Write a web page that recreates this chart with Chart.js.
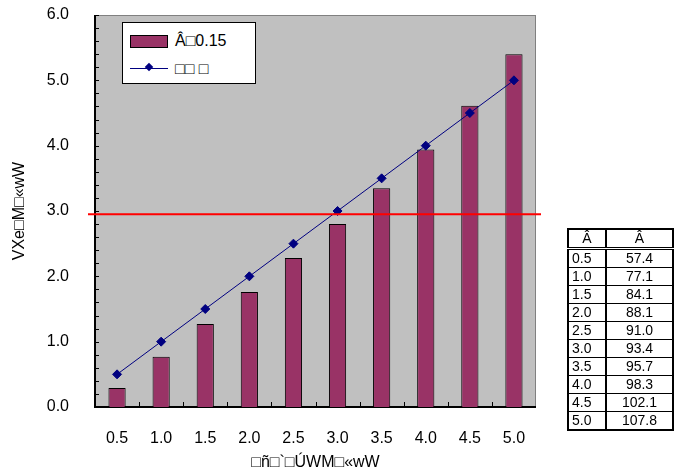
<!DOCTYPE html>
<html>
<head>
<meta charset="utf-8">
<script src="https://cdn.jsdelivr.net/npm/chart.js@4.4.1/dist/chart.umd.min.js"></script>
<style>
  body { margin: 0; background: #fff; font-family: "Liberation Sans", "Noto Sans CJK JP", sans-serif; }
  #wrap { position: relative; width: 682px; height: 472px; }
  #chart-box { position: absolute; left: 0; top: 0; width: 682px; height: 472px; }
  #legend { position: absolute; left: 122px; top: 22px; width: 132px; height: 60px; background: #fff; border: 1px solid #000; font-size: 16px; }
  #legend .row { position: absolute; left: 0; height: 20px; line-height: 20px; }
  #legend .sw { position: absolute; left: 7px; top: 4px; width: 36px; height: 11px; background: #993366; border: 1px solid #000; }
  #legend .ln { position: absolute; left: 7px; top: 9px; width: 38px; height: 1px; background: #000080; }
  #legend .dm { position: absolute; left: 23px; top: 5px; width: 6px; height: 6px; background: #000080; transform: rotate(45deg); }
  #legend .tx { position: absolute; left: 52px; top: 0; white-space: nowrap; }
  #tbl { position: absolute; left: 567px; top: 228px; border-collapse: collapse; border: 2px solid #000; font-size: 14px; }
  #tbl td, #tbl th { border: 1px solid #000; padding: 0 3px; height: 17px; line-height: 17px; font-weight: normal; }
  #tbl th { border-bottom: 3px double #000; text-align: center; }
  #tbl td:first-child { width: 30px; text-align: left; border-right: 2px solid #000; }
  #tbl th:first-child { border-right: 2px solid #000; }
  #tbl td:last-child { width: 59px; text-align: center; }
</style>
</head>
<body>
<div id="wrap">
  <div id="chart-box"><canvas id="bar-chart"></canvas></div>
  <div id="legend">
    <div class="row" style="top:8px;width:130px"><div class="sw"></div><span class="tx">Â□0.15</span></div>
    <div class="row" style="top:36px;width:130px"><div class="ln"></div><div class="dm"></div><span class="tx">□□ □</span></div>
  </div>
  <table id="tbl"></table>
</div>
<script>
// data
const categories = ['0.5', '1.0', '1.5', '2.0', '2.5', '3.0', '3.5', '4.0', '4.5', '5.0'];
const barValues = [0.29, 0.77, 1.27, 1.76, 2.28, 2.80, 3.35, 3.94, 4.61, 5.40];
const lineValues = [0.5, 1.0, 1.5, 2.0, 2.5, 3.0, 3.5, 4.0, 4.5, 5.0];
const redLineValue = 2.95;
const yTicks = [0, 1, 2, 3, 4, 5, 6];
const tableX = ['0.5', '1.0', '1.5', '2.0', '2.5', '3.0', '3.5', '4.0', '4.5', '5.0'];
const tableY = ['57.4', '77.1', '84.1', '88.1', '91.0', '93.4', '95.7', '98.3', '102.1', '107.8'];
const tableHead = ['Â', 'Â'];

// side table
const tbl = document.getElementById('tbl');
let html = '<tr><th>' + tableHead[0] + '</th><th>' + tableHead[1] + '</th></tr>';
tableX.forEach((x, i) => {
  html += '<tr><td>' + x + '</td><td>' + tableY[i] + '</td></tr>';
});
tbl.innerHTML = html;

// gray plot area, frame, inward ticks, red reference line
const plotDeco = {
  id: 'plotDeco',
  beforeDatasetsDraw(chart) {
    const { ctx, chartArea: a, scales } = chart;
    ctx.save();
    ctx.fillStyle = '#c0c0c0';
    ctx.fillRect(a.left, a.top, a.right - a.left, a.bottom - a.top);
    ctx.strokeStyle = '#808080';
    ctx.lineWidth = 1;
    ctx.strokeRect(a.left + 0.5, a.top + 0.5, a.right - a.left - 1, a.bottom - a.top - 1);
    ctx.strokeStyle = '#000';
    // y minor ticks every 0.2
    for (let v = 0; v <= 6.001; v += 0.2) {
      const y = Math.round(scales.y.getPixelForValue(v)) + 0.5;
      ctx.beginPath();
      ctx.moveTo(a.left, y);
      ctx.lineTo(a.left + 4, y);
      ctx.stroke();
    }
    // x ticks at category boundaries
    for (let i = 1; i < categories.length; i++) {
      const x = Math.round((scales.x.getPixelForValue(i - 1) + scales.x.getPixelForValue(i)) / 2) + 0.5;
      ctx.beginPath();
      ctx.moveTo(x, a.bottom);
      ctx.lineTo(x, a.bottom - 5);
      ctx.stroke();
    }
    ctx.lineWidth = 2;
    ctx.beginPath();
    ctx.moveTo(a.left, a.top);
    ctx.lineTo(a.left, a.bottom);
    ctx.lineTo(a.right, a.bottom);
    ctx.stroke();
    ctx.restore();
  },
  afterDatasetsDraw(chart) {
    const { ctx, chartArea: a, scales } = chart;
    const y = scales.y.getPixelForValue(redLineValue);
    ctx.save();
    ctx.strokeStyle = '#ff0000';
    ctx.lineWidth = 2;
    ctx.beginPath();
    ctx.moveTo(a.left - 7, y);
    ctx.lineTo(a.right + 5, y);
    ctx.stroke();
    ctx.restore();
  }
};

const ctx = document.getElementById('bar-chart').getContext('2d');
const barChart = new Chart(ctx, {
  type: 'bar',
  data: {
    labels: categories,
    datasets: [{
      type: 'line',
      label: '□□ □',
      data: lineValues,
      borderColor: '#000080',
      backgroundColor: '#000080',
      borderWidth: 1,
      pointStyle: 'rectRot',
      pointRadius: 4.5,
      pointHoverRadius: 4.5,
      order: 0
    }, {
      label: 'Â□0.15',
      data: barValues,
      backgroundColor: '#993366',
      borderColor: '#000',
      borderWidth: 1,
      categoryPercentage: 1,
      barPercentage: 0.39,
      order: 1
    }]
  },
  options: {
    responsive: true,
    maintainAspectRatio: false,
    animation: false,
    layout: { padding: { top: 15, right: 146, left: 0, bottom: 0 } },
    plugins: {
      legend: { display: false },
      tooltip: { enabled: false }
    },
    scales: {
      x: {
        grid: { display: false },
        border: { display: false },
        ticks: { color: '#000', font: { size: 16 }, padding: 14, maxRotation: 0 },
        title: {
          display: true,
          text: '□ñ□`□ÚWM□«wW',
          color: '#000',
          font: { size: 16 },
          padding: { top: 0, bottom: 0 }
        },
        afterFit: s => { s.height = 65; s.paddingLeft = 0; s.paddingRight = 0; }
      },
      y: {
        min: 0,
        max: 6,
        afterBuildTicks: s => { s.ticks = yTicks.map(v => ({ value: v })); },
        grid: { display: false },
        border: { display: false },
        ticks: { color: '#000', font: { size: 16 }, padding: 18, callback: v => v.toFixed(1) },
        title: {
          display: true,
          text: 'VXe□M□«wW',
          color: '#000',
          font: { size: 16 },
          padding: { top: 10, bottom: 0 }
        },
        afterFit: s => { s.width = 95; s.paddingTop = 0; s.paddingBottom = 0; }
      }
    }
  },
  plugins: [plotDeco]
});
</script>
</body>
</html>
